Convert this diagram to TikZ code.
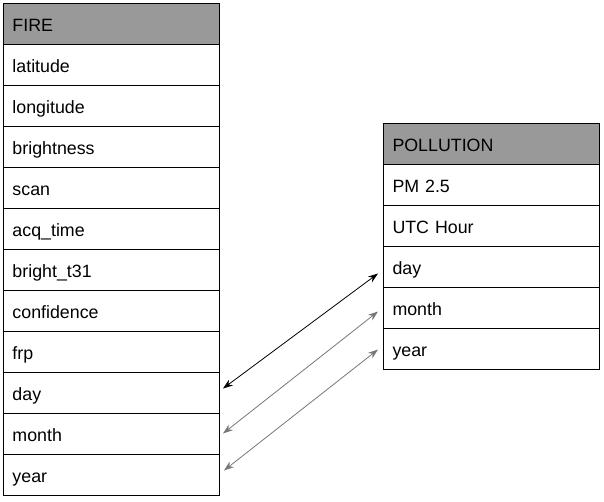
\documentclass[tikz,border=0pt]{standalone}
\usepackage{fontspec}
\setmainfont{Liberation Sans}
\usetikzlibrary{arrows.meta}
\definecolor{headgrey}{HTML}{999999}
\definecolor{linkgrey}{HTML}{777777}
\begin{document}
\begin{tikzpicture}[x=1pt,y=-1pt,
  field/.style={draw=black,line width=1pt,fill=white,anchor=north west,
    minimum width=216pt,minimum height=41pt,text width=198pt,inner xsep=9pt,
    inner ysep=0pt,text height=16pt,text depth=1pt,align=left,
    font=\fontsize{17.8}{20}\selectfont},
  headfield/.style={field,fill=headgrey},
  link/.style={line width=0.8pt,{Stealth[length=10pt,width=7pt]}-{Stealth[length=10pt,width=7pt]}}]
\useasboundingbox (0,0) rectangle (604,501);
% FIRE table
\node[headfield] (fhead) at (3,3) {FIRE};
\foreach \lbl/\nm [count=\i] in {latitude/flat,longitude/flon,brightness/fbright,scan/fscan,acq\_time/facq,bright\_t31/ft31,confidence/fconf,frp/ffrp,day/fday,month/fmonth,year/fyear}
  \node[field] (\nm) at (3,{3+41*\i}) {\lbl};
% POLLUTION table
\node[headfield] (phead) at (383,123) {POLLUTION};
\foreach \lbl/\nm [count=\i] in {PM 2.5/ppm,UTC Hour/putc,day/pday,month/pmonth,year/pyear}
  \node[field] (\nm) at (383,{123+41*\i}) {\lbl};
% links between matching date fields
\draw[link,black] ([xshift=3pt,yshift=4.5pt]fday.east) -- ([xshift=-5pt,yshift=-6.5pt]pday.west);
\draw[link,linkgrey] ([xshift=3pt,yshift=0.5pt]fmonth.east) -- ([xshift=-5pt,yshift=-3.5pt]pmonth.west);
\draw[link,linkgrey] ([xshift=4pt,yshift=4.5pt]fyear.east) -- ([xshift=-5pt,yshift=-0.5pt]pyear.west);
\end{tikzpicture}
\end{document}
